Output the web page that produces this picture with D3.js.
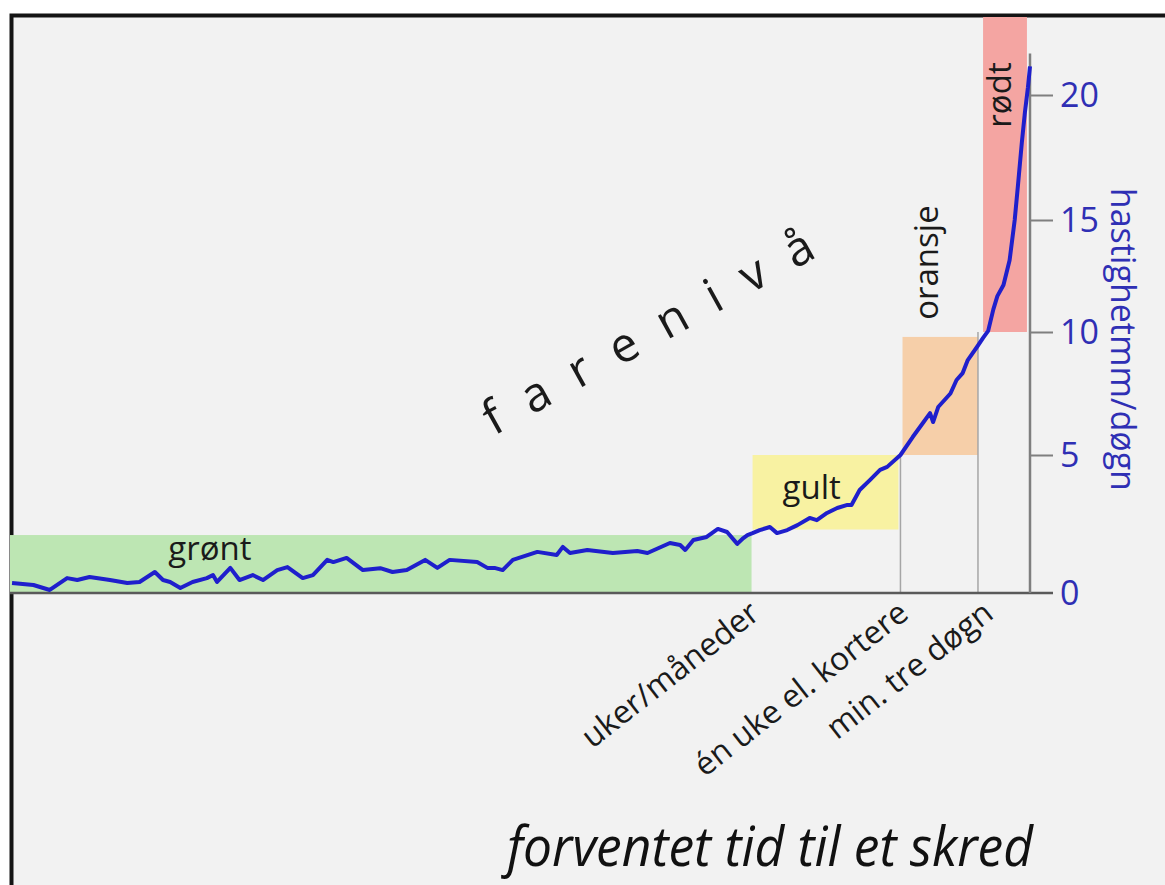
<!DOCTYPE html>
<html>
<head>
<meta charset="utf-8">
<script src="https://cdn.jsdelivr.net/npm/d3@7"></script>
<style>
  body { margin: 0; background: #ffffff; }
  svg { display: block; }
</style>
</head>
<body>
<script>
// ---------- data ----------
// time axis: 0..100 (relative time towards a slide); velocity in mm/døgn
const timeSteps = [0.2,2.3,3.9,5.6,6.6,7.8,9.8,11.5,12.7,14.2,15.0,15.7,16.7,17.9,19.3,19.9,20.3,21.6,22.5,23.8,24.8,26.2,27.2,28.7,29.7,31.1,31.7,33.0,34.3,34.6,36.3,37.5,38.9,40.7,41.9,43.1,45.8,46.8,47.5,48.3,49.3,51.7,53.6,54.2,54.9,56.6,59.1,61.5,62.5,64.7,65.7,66.2,67.0,68.3,69.4,70.3,71.3,71.9,72.3,72.8,73.5,74.5,75.2,76.2,77.2,78.4,79.1,80.1,81.1,82.1,82.5,83.3,84.3,85.3,86.0,87.3,88.5,89.5,90.2,90.5,91.0,92.2,92.8,93.4,93.9,94.8,95.4,95.9,96.4,96.8,97.4,98.0,98.5,98.8,99.2,99.5,99.8,100.0];
const velocity = [0.36,0.29,0.11,0.54,0.47,0.58,0.47,0.36,0.40,0.76,0.47,0.40,0.18,0.40,0.54,0.65,0.40,0.91,0.47,0.65,0.47,0.83,0.94,0.54,0.65,1.20,1.12,1.27,0.91,0.83,0.90,0.76,0.83,1.20,0.91,1.20,1.12,0.91,0.91,0.83,1.20,1.49,1.38,1.67,1.45,1.56,1.45,1.52,1.45,1.81,1.74,1.56,1.92,2.03,2.32,2.21,1.78,1.99,2.10,2.17,2.28,2.39,2.17,2.28,2.46,2.72,2.64,2.90,3.08,3.19,3.19,3.73,4.09,4.46,4.57,5.0,5.73,6.30,6.70,6.34,6.95,7.50,8.05,8.33,8.86,9.39,9.76,10.05,11.0,11.6,12.1,13.2,15.0,16.3,18.1,19.3,20.3,21.1];

const zoneNames  = ["grønt", "gult", "oransje", "rødt"];
const zoneStart  = [0, 72.8, 87.5, 95.4];
const zoneEnd    = [72.7, 87.1, 94.9, 99.7];
const zoneLow    = [0, 2.3, 5, 10];
const zoneHigh   = [2.1, 5, 9.8, 23];
const zoneLabelT = [19.6, 78.6, 91.0, 98.1];
const zoneLabelV = [1.2, 3.4, 13.1, 20.0];

const timeLabels    = ["uker/måneder", "én uke el. kortere", "min. tre døgn"];
const timeLabelAt   = [72.7, 87.3, 95.6];
const separatorAt   = [87.3, 94.9];
const separatorTop  = [5, 10];

const yTicks = [0, 5, 10, 15, 20];
const yAxisTitle = "hastighetmm/døgn";
const riskTitle = "farenivå";
const xTitle = "forventet tid til et skred";

// ---------- styles ----------
const zoneColors = ["#bde6b3", "#f8f2a2", "#f6cfa9", "#f4a5a2"];
const W = 1165, H = 885;
const FONT = "Open Sans, sans-serif";

const svg = d3.select("body").append("svg").attr("width", W).attr("height", H);

// frame
svg.append("rect").attr("x", 11.5).attr("y", 15.5).attr("width", W).attr("height", H)
  .attr("fill", "#f2f2f2").attr("stroke", "#141414").attr("stroke-width", 4);

const x = d3.scaleLinear().domain([0, 100]).range([10, 1030]);
const y = d3.scaleLinear().domain([0, 5, 10, 15, 20, 23]).range([593, 455, 332, 220, 95, 17]);

const plot = svg.append("g");

// zone boxes
plot.selectAll("rect.zone").data(zoneNames).join("rect").attr("class", "zone")
  .attr("x", (d, i) => x(zoneStart[i]))
  .attr("width", (d, i) => x(zoneEnd[i]) - x(zoneStart[i]))
  .attr("y", (d, i) => y(zoneHigh[i]))
  .attr("height", (d, i) => y(zoneLow[i]) - y(zoneHigh[i]))
  .attr("fill", (d, i) => zoneColors[i]);

// separators
plot.selectAll("line.sep").data(separatorAt).join("line").attr("class", "sep")
  .attr("x1", d => x(d)).attr("x2", d => x(d))
  .attr("y1", y(0)).attr("y2", (d, i) => y(separatorTop[i]))
  .attr("stroke", "#a6a6a6").attr("stroke-width", 1.5);

// bottom axis line
plot.append("line").attr("x1", 10).attr("x2", x(100) + 23)
  .attr("y1", y(0)).attr("y2", y(0)).attr("stroke", "#5a5a5a").attr("stroke-width", 2.5);

// y axis
const yAxis = d3.axisRight(y).tickValues(yTicks).tickSize(23).tickPadding(7);
const gy = svg.append("g").attr("transform", `translate(${x(100)},0)`).call(yAxis);
gy.select(".domain").remove();
gy.selectAll(".tick line").attr("stroke", "#7f7f7f").attr("stroke-width", 2);
gy.selectAll(".tick text").attr("fill", "#2f2fb4").attr("font-family", FONT)
  .attr("font-size", 34).attr("dy", "0.35em");
gy.selectAll(".tick").filter(d => d === 0).select("line").remove();
svg.append("line").attr("x1", x(100)).attr("x2", x(100)).attr("y1", y(0)).attr("y2", y(21.6))
  .attr("stroke", "#7f7f7f").attr("stroke-width", 2.5);

// zone labels
const zl = svg.append("g").attr("font-family", FONT).attr("fill", "#1a1a1a").attr("font-size", 33);
zl.append("text").attr("x", x(zoneLabelT[0])).attr("y", y(zoneLabelV[0])).attr("text-anchor", "middle").text(zoneNames[0]);
zl.append("text").attr("x", x(zoneLabelT[1])).attr("y", y(zoneLabelV[1])).attr("text-anchor", "middle").text(zoneNames[1]);
[2, 3].forEach(i => {
  zl.append("text").attr("transform", `translate(${x(zoneLabelT[i])},${y(zoneLabelV[i])}) rotate(-90)`)
    .attr("text-anchor", "middle").text(zoneNames[i]);
});

// velocity line
const line = d3.line().x((d, i) => x(timeSteps[i])).y(d => y(d));
svg.append("path").datum(velocity).attr("d", line).attr("fill", "none")
  .attr("stroke", "#1f1fcc").attr("stroke-width", 4).attr("stroke-linejoin", "round");

// time labels (rotated)
svg.append("g").attr("font-family", FONT).attr("font-size", 32).attr("fill", "#1a1a1a")
  .selectAll("text").data(timeLabels).join("text")
  .attr("transform", (d, i) => `translate(${x(timeLabelAt[i]) + 10},${y(0) + 24}) rotate(-38)`)
  .attr("text-anchor", "end").text(d => d);

// y axis title
svg.append("text").attr("transform", `translate(1111,${y(9.7)}) rotate(90)`)
  .attr("text-anchor", "middle").attr("font-family", FONT).attr("font-size", 34)
  .attr("fill", "#2f2fb4").text(yAxisTitle);

// farenivå
svg.append("text").attr("transform", "translate(494,436) rotate(-29)")
  .attr("font-family", FONT).attr("font-size", 48).attr("letter-spacing", 27)
  .attr("fill", "#1a1a1a").text(riskTitle);

// x title
svg.append("text").attr("x", 507).attr("y", 866)
  .attr("font-family", FONT).attr("font-style", "italic").attr("font-size", 54)
  .attr("textLength", 526).attr("lengthAdjust", "spacingAndGlyphs")
  .attr("fill", "#111").text(xTitle);
</script>
</body>
</html>
